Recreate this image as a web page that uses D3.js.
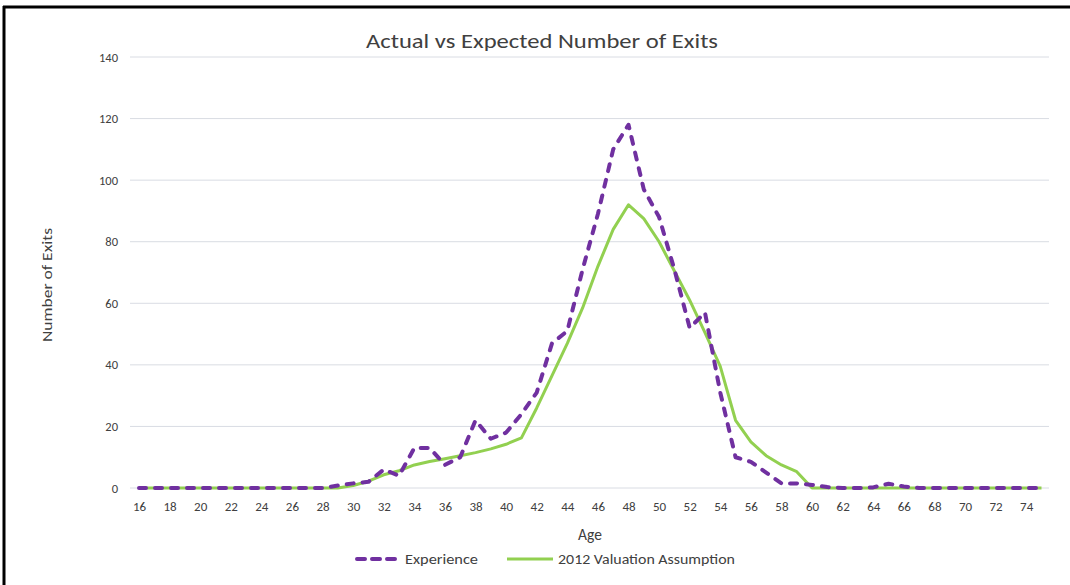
<!DOCTYPE html>
<html>
<head>
<meta charset="utf-8">
<script src="https://cdn.jsdelivr.net/npm/d3@7"></script>
<style>
  html, body { margin: 0; padding: 0; background: #fff; }
  svg { display: block; }
  text { font-family: Carlito, "Liberation Sans Narrow", Lato, "Open Sans", sans-serif; fill: #404040; }
</style>
</head>
<body>
<svg id="chart" width="1070" height="585"></svg>
<script>
// Ages on the category axis
const ages = d3.range(16, 76);

// Observed exits by age
const experience = [
  0, 0, 0, 0, 0, 0, 0, 0, 0, 0, 0, 0, 0,      // 16-28
  0.8, 1.5, 2, 6, 4, 13, 13, 7.5, 10, 22,      // 29-38
  16, 18, 24, 31, 47, 51, 71, 89, 110, 118,    // 39-48
  97, 88, 71, 52, 57, 31, 10, 8.5, 5, 1.5,     // 49-58
  1.5, 1, 0.3, 0, 0, 0.2, 1.4, 0.5, 0, 0,      // 59-68
  0, 0, 0, 0, 0, 0, 0                          // 69-75
];

// Expected exits under the 2012 valuation assumption
const valuation = [
  0, 0, 0, 0, 0, 0, 0, 0, 0, 0, 0, 0, 0,      // 16-28
  0, 0.8, 2.2, 4.3, 5.6, 7.5, 8.6, 9.5, 10.5, 11.5, // 29-38
  12.7, 14.2, 16.3, 26, 36.5, 47, 58.5, 72, 84, 92, // 39-48
  87.5, 80, 70.5, 61, 50.5, 39.5, 22, 15, 10.5, 7.5, // 49-58
  5.3, 0, 0, 0, 0, 0, 0, 0, 0, 0,              // 59-68
  0, 0, 0, 0, 0, 0, 0                          // 69-75
];

const yTicks = [0, 20, 40, 60, 80, 100, 120, 140];
const xTickAges = d3.range(16, 75, 2);

const seriesNames = ["Experience", "2012 Valuation Assumption"];
const purple = "#7030A0";
const green = "#92D050";

const svg = d3.select("#chart");

// Frame edges
svg.append("line").attr("x1", 3).attr("x2", 1070).attr("y1", 7).attr("y2", 7)
  .attr("stroke", "#000").attr("stroke-width", 3);
svg.append("line").attr("x1", 4).attr("x2", 4).attr("y1", 6).attr("y2", 585)
  .attr("stroke", "#000").attr("stroke-width", 3);

const x = d3.scalePoint().domain(ages).range([139, 1041.5]);
const y = d3.scaleLinear().domain([0, 140]).range([488, 57]);

// Horizontal gridlines
svg.append("g").selectAll("line").data(yTicks).join("line")
  .attr("x1", 130).attr("x2", 1049)
  .attr("y1", d => y(d)).attr("y2", d => y(d))
  .attr("stroke", "#D9DCE3").attr("stroke-width", 1);

// Y axis labels
const yAxis = d3.axisLeft(y).tickValues(yTicks).tickSize(0).tickPadding(0);
svg.append("g").attr("transform", "translate(118,0)").call(yAxis)
  .call(g => g.select(".domain").remove())
  .call(g => g.selectAll("text").attr("font-size", 12.5).attr("fill", "#404040")
    .style("font-family", 'Carlito, "Liberation Sans Narrow", Lato, sans-serif'));

// X axis labels
const xAxis = d3.axisBottom(x).tickValues(xTickAges).tickSize(0).tickPadding(0);
svg.append("g").attr("transform", "translate(0,502)").call(xAxis)
  .call(g => g.select(".domain").remove())
  .call(g => g.selectAll("text").attr("font-size", 13).attr("fill", "#404040")
    .style("font-family", 'Carlito, "Liberation Sans Narrow", Lato, sans-serif'));

// Series lines
const line = d3.line().x((d, i) => x(ages[i])).y(d => y(d));

svg.append("path").datum(valuation)
  .attr("d", line).attr("fill", "none")
  .attr("stroke", green).attr("stroke-width", 3)
  .attr("stroke-linejoin", "round");

svg.append("path").datum(experience)
  .attr("d", line).attr("fill", "none")
  .attr("stroke", purple).attr("stroke-width", 4)
  .attr("stroke-dasharray", "7,9").attr("stroke-linecap", "round")
  .attr("stroke-linejoin", "round");

// Title
svg.append("text").attr("x", 542).attr("y", 48).attr("text-anchor", "middle")
  .attr("font-size", 21).attr("fill", "#000")
  .attr("textLength", 352).attr("lengthAdjust", "spacingAndGlyphs")
  .text("Actual vs Expected Number of Exits");

// Axis titles
svg.append("text").attr("x", 590).attr("y", 540).attr("text-anchor", "middle")
  .attr("font-size", 15.5).attr("fill", "#404040").text("Age");

svg.append("text").attr("transform", "translate(52,285) rotate(-90)")
  .attr("text-anchor", "middle").attr("font-size", 14.5).attr("fill", "#404040")
  .attr("textLength", 114).attr("lengthAdjust", "spacingAndGlyphs")
  .text("Number of Exits");

// Legend
const legend = svg.append("g");
legend.append("line").attr("x1", 357).attr("x2", 399).attr("y1", 559).attr("y2", 559)
  .attr("stroke", purple).attr("stroke-width", 4)
  .attr("stroke-dasharray", "8,7").attr("stroke-linecap", "round");
legend.append("text").attr("x", 405).attr("y", 564).attr("font-size", 13.5)
  .attr("textLength", 73).attr("lengthAdjust", "spacingAndGlyphs")
  .text(seriesNames[0]);
legend.append("line").attr("x1", 507).attr("x2", 553).attr("y1", 559).attr("y2", 559)
  .attr("stroke", green).attr("stroke-width", 3);
legend.append("text").attr("x", 558).attr("y", 564).attr("font-size", 13.5)
  .attr("textLength", 177).attr("lengthAdjust", "spacingAndGlyphs")
  .text(seriesNames[1]);
</script>
</body>
</html>
